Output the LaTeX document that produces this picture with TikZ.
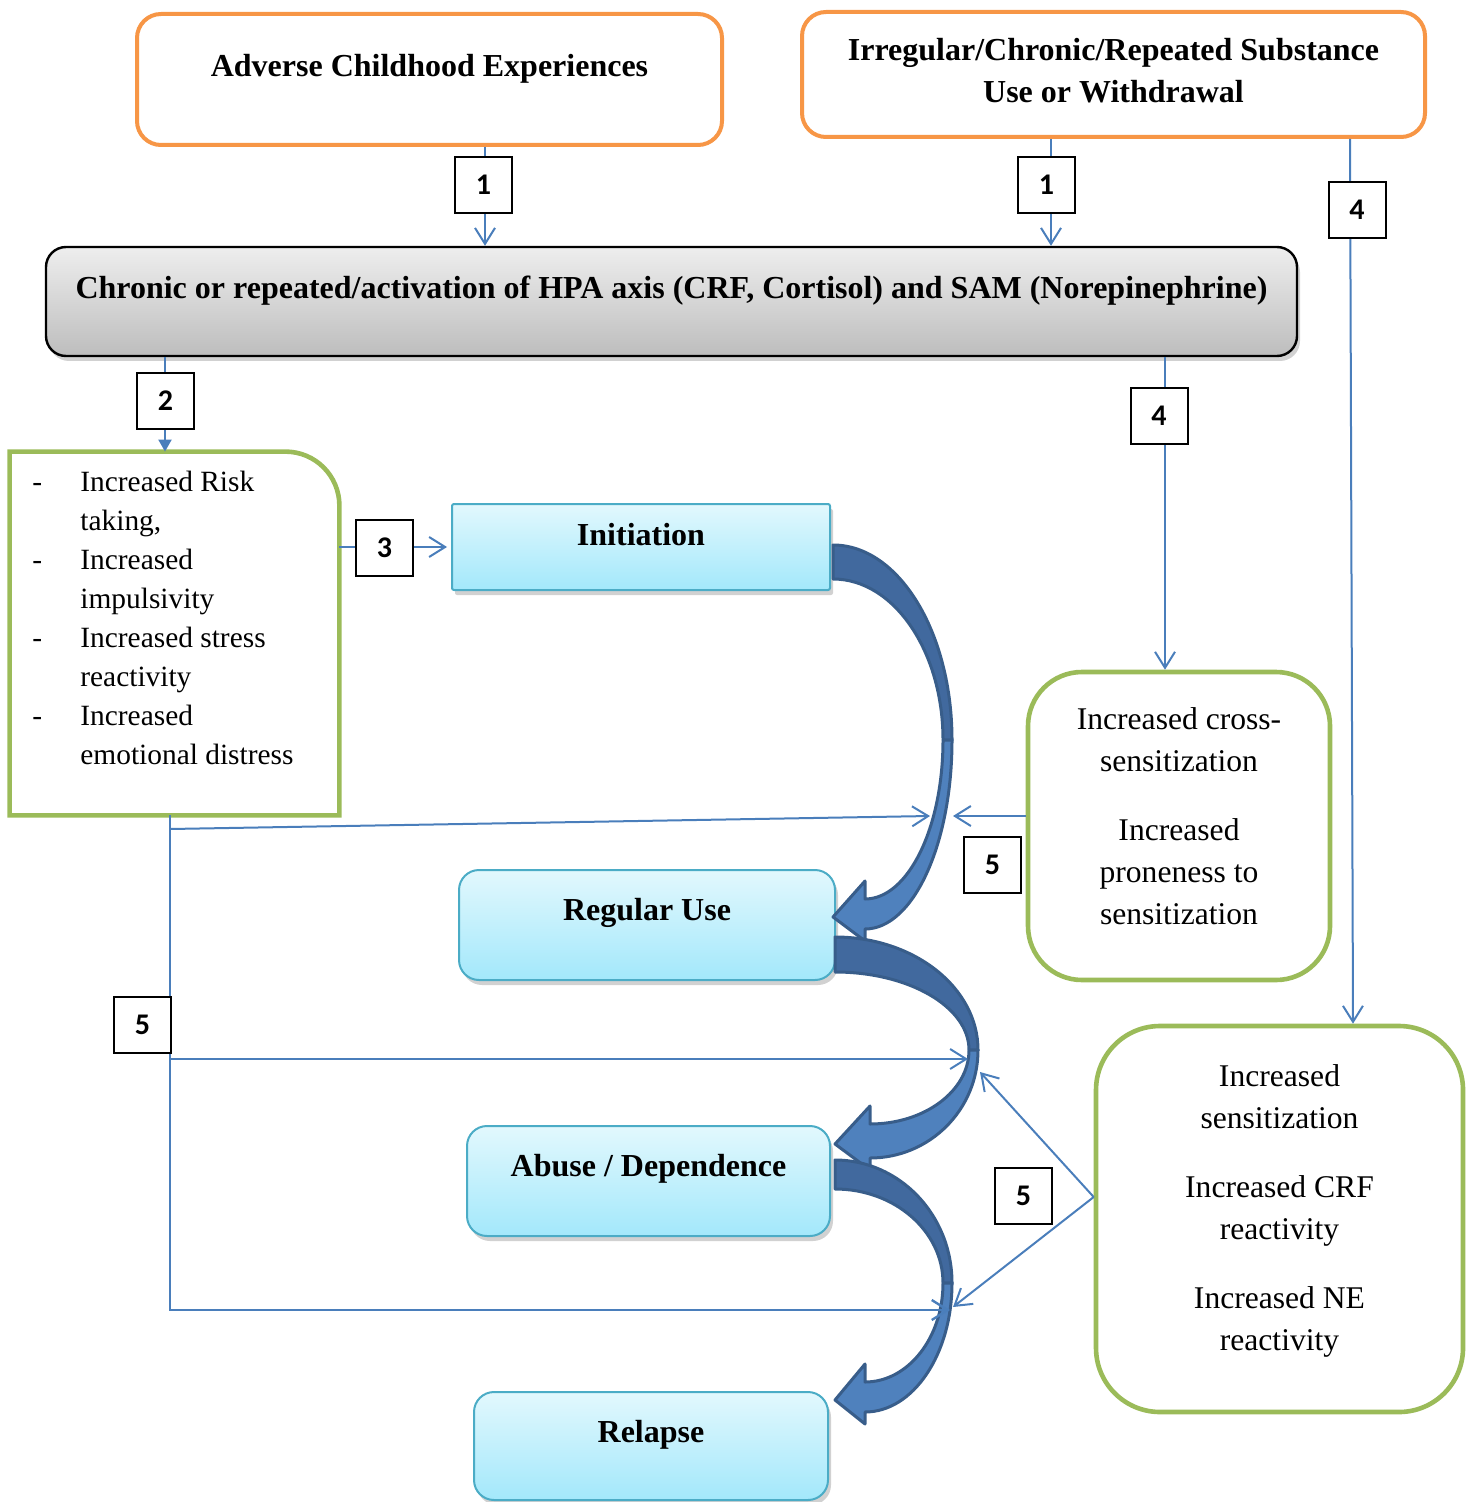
\documentclass[tikz,border=0pt]{standalone}
\usepackage{fontspec}
\setmainfont{Liberation Serif}
\newfontfamily\numfont{Carlito}
\usetikzlibrary{arrows.meta,shadows,calc}
\definecolor{orangeb}{HTML}{F79646}
\definecolor{greenb}{HTML}{9BBB59}
\definecolor{connc}{HTML}{4A7EBB}
\definecolor{cyanb}{HTML}{4BACC6}
\definecolor{cyantop}{HTML}{E2F8FD}
\definecolor{cyanbot}{HTML}{A3E8FB}
\definecolor{hpatop}{HTML}{EEEEEE}
\definecolor{hpabot}{HTML}{BDBDBD}
\definecolor{arrfront}{HTML}{4F81BD}
\definecolor{arrback}{HTML}{41699E}
\definecolor{arrline}{HTML}{385D8A}
\newcommand\curvarr[8]{%
 \pgfmathsetmacro\ka{#1+0.5523*(#4-#1)}%
 \pgfmathsetmacro\kb{#5-0.5523*(#5-#2)}%
 \pgfmathsetmacro\kc{#5-0.5523*(#5-#3)}%
 \pgfmathsetmacro\kd{#1+0.5523*(#4-9-#1)}%
 \pgfmathsetmacro\ke{#5+0.5523*(#8-#5)}%
 \pgfmathsetmacro\kf{#6+0.5523*(#4-#6)}%
 \pgfmathsetmacro\kg{#6+0.5523*(#4-9-#6)}%
 \pgfmathsetmacro\kh{#5+0.5523*(#7-#5)}%
 \pgfmathsetmacro\cxi{#4-9}%
 \pgfmathsetmacro\tipy{(#7+#8)/2+3}%
 \pgfmathsetmacro\byu{#7-18}%
 \pgfmathsetmacro\byl{#8+12}%
 \draw[arrbackst] (#1,#2) .. controls (\ka,#2) and (#4,\kb) .. (#4,#5) -- (\cxi,#5) .. controls (\cxi,\kc) and (\kd,#3) .. (#1,#3) -- cycle;
 \draw[arrfrontst] (#4,#5) .. controls (#4,\ke) and (\kf,#8) .. (#6,#8) -- (#6,\byl) -- (#1,\tipy) -- (#6,\byu) -- (#6,#7) .. controls (\kg,#7) and (\cxi,\kh) .. (\cxi,#5) -- cycle;
}
\begin{document}
\begin{tikzpicture}[x=0.5pt,y=-0.5pt,
 conn/.style={draw=connc, line width=1pt},
 openarr/.style={-{Straight Barb[length=8pt,width=10pt]}},
 numbox/.style={draw=black, line width=1pt, fill=white, minimum width=28.5pt, minimum height=28pt, inner sep=0pt, font=\numfont\bfseries\fontsize{15}{18}\selectfont},
 orangebox/.style={draw=orangeb, line width=2pt, rounded corners=12pt, fill=white, inner sep=0pt},
 greenbox/.style={draw=greenb, line width=2.3pt, rounded corners=27pt, fill=white, inner sep=0pt},
 cyanbox/.style={draw=cyanb, line width=1pt, top color=cyantop, bottom color=cyanbot, rounded corners=10pt, inner sep=0pt, drop shadow={shadow xshift=1.5pt,shadow yshift=-2.5pt,opacity=0.3,fill=black!60}},
 titletext/.style={font=\bfseries\fontsize{16}{21}\selectfont, align=center, inner sep=0pt},
 bodytext/.style={font=\fontsize{15.8}{21}\selectfont, align=center, inner sep=0pt},
 arrbackst/.style={fill=arrback, draw=arrline, line width=1.5pt, line join=round},
 arrfrontst/.style={fill=arrfront, draw=arrline, line width=1.5pt, line join=round},
]
\useasboundingbox (0,0) rectangle (1476,1502);
% boxes
\node[orangebox, minimum width=292.5pt, minimum height=65.5pt] (ace) at (429.5,79.5) {};
\node[titletext] (acet) at (429.5,69) {Adverse Childhood Experiences};
\node[orangebox, minimum width=311.5pt, minimum height=62.5pt] (sub) at (1113.5,74.5) {};
\node[titletext] (subt) at (1113.5,71) {Irregular/Chronic/Repeated Substance\\Use or Withdrawal};
\node[draw=black, line width=1.2pt, rounded corners=10pt, top color=hpatop, bottom color=hpabot, drop shadow={shadow xshift=1.5pt,shadow yshift=-2.5pt,opacity=0.3,fill=black!60}, minimum width=625.5pt, minimum height=54.5pt, inner sep=0pt] (hpa) at (671.5,301.5) {};
\node[titletext] (hpat) at (671.5,291) {Chronic or repeated/activation of HPA axis (CRF, Cortisol) and SAM (Norepinephrine)};
\node[minimum width=164.5pt, minimum height=181.5pt, inner sep=0pt] (risk) at (174.5,633.5) {};
\draw[draw=greenb, line width=2.3pt] (risk.south west) -- (risk.north west) [rounded corners=27pt] -- (risk.north east) [sharp corners] -- (risk.south east) -- cycle;
\node[font=\fontsize{14.7}{19.5}\selectfont, inner sep=0pt, anchor=north west] (riskt) at (32,464) {\begin{tabular}{@{}p{24pt}@{}l@{}} - & Increased Risk\\ & taking,\\ - & Increased\\ & impulsivity\\ - & Increased stress\\ & reactivity\\ - & Increased\\ & emotional distress\end{tabular}};
\node[cyanbox, rounded corners=1pt, minimum width=189pt, minimum height=43pt] (init) at (641,547) {};
\node[titletext] (initt) at (641,535) {Initiation};
\node[cyanbox, minimum width=188pt, minimum height=55pt] (reg) at (647,925) {};
\node[titletext] (regt) at (647,913) {Regular Use};
\node[cyanbox, minimum width=181.5pt, minimum height=55pt] (abuse) at (648.5,1181) {};
\node[titletext] (abuset) at (648.5,1169) {Abuse / Dependence};
\node[cyanbox, minimum width=177pt, minimum height=54pt] (relapse) at (651,1446) {};
\node[titletext] (relapset) at (651,1435) {Relapse};
\node[greenbox, minimum width=151pt, minimum height=154pt] (cross) at (1179,826) {};
\node[bodytext] (crosst) at (1179,816) {Increased cross-\\sensitization\\[13.5pt]Increased\\proneness to\\sensitization};
\node[greenbox, rounded corners=32pt, minimum width=183.5pt, minimum height=193pt] (sens) at (1279.5,1219) {};
\node[bodytext] (senst) at (1279.5,1211) {Increased\\sensitization\\[13.5pt]Increased CRF\\reactivity\\[13.5pt]Increased NE\\reactivity};
% curved arrows
\curvarr{833}{545}{579}{952}{740}{865}{899}{929}
\curvarr{835}{937}{972}{978}{1050}{870}{1124}{1158}
\curvarr{835}{1160}{1189}{952}{1283}{865}{1382}{1412}
% coordinates
\coordinate (xa) at (485,0);
\coordinate (xb) at (1051,0);
\coordinate (xc) at (165,0);
\coordinate (xd) at (1165,0);
\coordinate (xl) at (170,0);
\coordinate (xe4) at (1350,0);
\coordinate (xe5) at (1353,0);
\coordinate (bA) at (170,829);
\coordinate (bC) at (170,1059);
\coordinate (tA) at (930,816);
\coordinate (tB) at (953,816);
\coordinate (tC) at (968,1059);
\coordinate (tD) at (980,1072);
\coordinate (tE) at (950,1310);
\coordinate (tF) at (953,1307);
% connectors
\draw[conn,openarr] (ace.south -| xa) -- (hpa.north -| xa);
\draw[conn,openarr] (sub.south -| xb) -- (hpa.north -| xb);
\draw[conn,openarr] (sub.south -| xe4) -- (sens.north -| xe5);
\draw[conn,-{Triangle[length=6pt,width=6.5pt]}] (hpa.south -| xc) -- (risk.north -| xc);
\draw[conn,openarr] (hpa.south -| xd) -- (cross.north -| xd);
\draw[conn,openarr,shorten >=2pt] (risk.east |- init.west) -- (init.west);
\draw[conn,line width=1.2pt,openarr] (risk.south -| xl) -- (xl |- tE) -- (tE);
\draw[conn,openarr] (bA) -- (tA);
\draw[conn,openarr] (bC) -- (tC);
\draw[conn,openarr] ([yshift=5pt]cross.west) -- (tB);
\draw[conn,openarr] ([yshift=11pt]sens.west) -- (tD);
\draw[conn,openarr] ([yshift=11pt]sens.west) -- (tF);
% number boxes
\node[numbox] (n1a) at (483.5,185) {1};
\node[numbox] (n1b) at (1046.5,185) {1};
\node[numbox] (n4a) at (1357,210) {4};
\node[numbox] (n2) at (165.5,401) {2};
\node[numbox] (n4b) at (1159,416) {4};
\node[numbox] (n3) at (384.5,548) {3};
\node[numbox] (n5a) at (992.5,864.5) {5};
\node[numbox] (n5b) at (142.5,1025) {5};
\node[numbox] (n5c) at (1023.5,1196) {5};
\end{tikzpicture}
\end{document}
